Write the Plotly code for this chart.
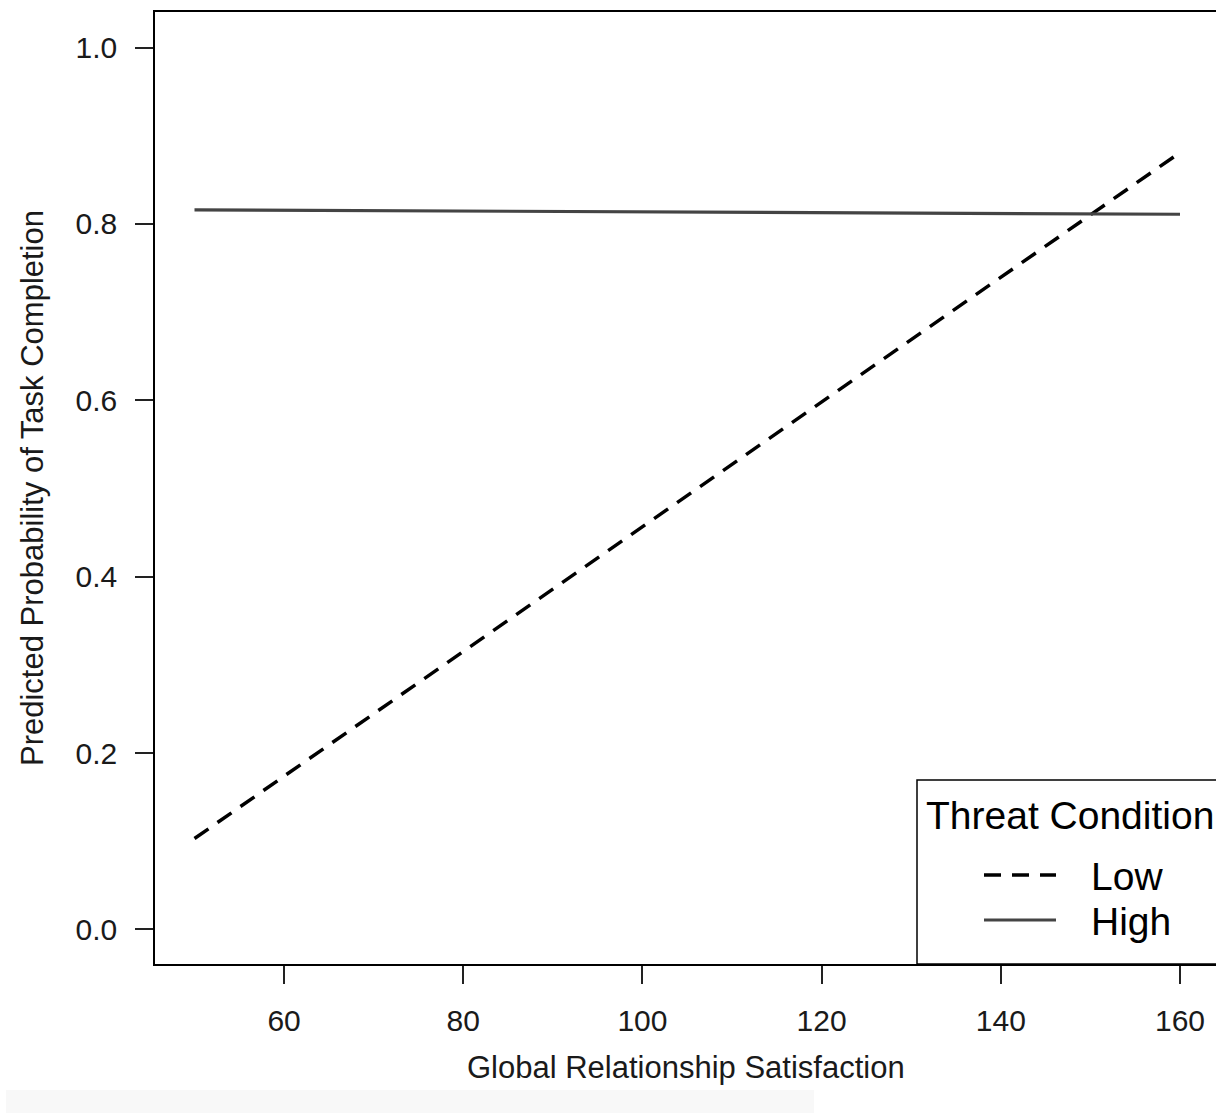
import plotly.graph_objects as go

# Data
satisfaction = [50, 160]
low_threat = [0.103, 0.881]
high_threat = [0.816, 0.811]

x_ticks = [60, 80, 100, 120, 140, 160]
y_ticks = [0.0, 0.2, 0.4, 0.6, 0.8, 1.0]
y_ticklabels = ["0.0", "0.2", "0.4", "0.6", "0.8", "1.0"]

FONT = "Liberation Sans, Arial, sans-serif"
W, H = 1216, 1113
L, R, T, B = 155, 0, 12, 149
PW, PH = W - L - R, H - T - B


def px_x(p):
    return (p - L) / PW


def px_y(p):
    return (H - B - p) / PH


fig = go.Figure()
fig.add_trace(go.Scatter(x=satisfaction, y=low_threat, mode="lines", name="Low",
                         line=dict(color="black", width=3.5, dash="17px,11px"),
                         showlegend=False))
fig.add_trace(go.Scatter(x=satisfaction, y=high_threat, mode="lines", name="High",
                         line=dict(color="#444444", width=3.2),
                         showlegend=False))

shapes = [
    # faint band at bottom
    dict(type="rect", xref="paper", yref="paper", x0=px_x(6), x1=px_x(814),
         y0=px_y(1113), y1=px_y(1090), fillcolor="#f8f8f8", line=dict(width=0), layer="below"),
    # legend box
    dict(type="rect", xref="paper", yref="paper", x0=px_x(917), x1=px_x(1240),
         y0=px_y(964), y1=px_y(780), fillcolor="white", line=dict(color="black", width=1.5)),
    # legend samples
    dict(type="line", xref="paper", yref="paper", x0=px_x(984), x1=px_x(1056),
         y0=px_y(875), y1=px_y(875), line=dict(color="black", width=3.5, dash="17px,11px")),
    dict(type="line", xref="paper", yref="paper", x0=px_x(984), x1=px_x(1056),
         y0=px_y(920), y1=px_y(920), line=dict(color="#444444", width=3.2)),
]

annotations = [
    dict(text="Threat Condition", xref="paper", yref="paper", x=px_x(924), y=px_y(815),
         xanchor="left", yanchor="middle", showarrow=False, font=dict(size=39, color="black", family=FONT)),
    dict(text="Low", xref="paper", yref="paper", x=px_x(1089), y=px_y(876),
         xanchor="left", yanchor="middle", showarrow=False, font=dict(size=39, color="black", family=FONT)),
    dict(text="High", xref="paper", yref="paper", x=px_x(1089), y=px_y(921),
         xanchor="left", yanchor="middle", showarrow=False, font=dict(size=39, color="black", family=FONT)),
    dict(text="Global Relationship Satisfaction", xref="paper", yref="paper", x=px_x(686), y=px_y(1067),
         xanchor="center", yanchor="middle", showarrow=False, font=dict(size=31, color="#1a1a1a", family=FONT)),
    dict(text="Predicted Probability of Task Completion", xref="paper", yref="paper", x=px_x(32), y=px_y(488),
         xanchor="center", yanchor="middle", textangle=-90, showarrow=False,
         font=dict(size=31, color="#1a1a1a", family=FONT)),
]

fig.update_layout(
    width=W, height=H,
    margin=dict(l=L, r=R, t=T, b=B, pad=0),
    paper_bgcolor="white", plot_bgcolor="white",
    font=dict(family=FONT, color="#1a1a1a"),
    shapes=shapes, annotations=annotations,
    showlegend=False,
)
fig.update_xaxes(range=[45.59, 164.02], tickmode="array", tickvals=x_ticks,
                 ticks="outside", ticklen=18, tickwidth=1.5, tickcolor="#222",
                 showline=True, linecolor="black", linewidth=1.5, mirror=True,
                 showgrid=False, zeroline=False, tickfont=dict(size=30, family=FONT, color="#1a1a1a"),
                 ticklabelstandoff=11)
fig.update_yaxes(range=[-0.0393, 1.0404], tickmode="array", tickvals=y_ticks, ticktext=y_ticklabels,
                 ticks="outside", ticklen=18, tickwidth=1.5, tickcolor="#222",
                 showline=True, linecolor="black", linewidth=1.5,
                 showgrid=False, zeroline=False, tickfont=dict(size=30, family=FONT, color="#1a1a1a"),
                 ticklabelstandoff=12)

fig.write_html("out.html")
